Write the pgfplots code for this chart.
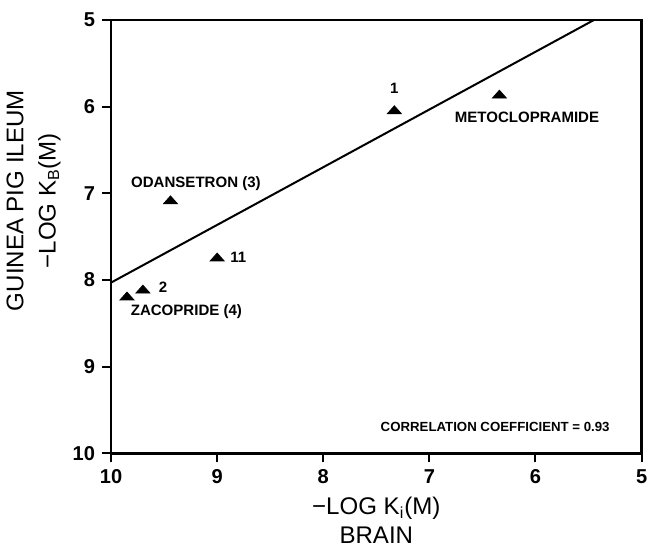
\documentclass[border=0pt]{standalone}
\usepackage{fontspec}
\setmainfont{Liberation Sans}
\usepackage{pgfplots}
\pgfplotsset{compat=1.18}
\usetikzlibrary{calc}
\begin{document}
\begin{tikzpicture}[trim right={($(current axis.south east)+(3.2pt,0)$)}]
\begin{axis}[
  width=264.5pt, height=216pt, scale only axis,
  x dir=reverse, y dir=reverse,
  xmin=5, xmax=10, ymin=5, ymax=10,
  xtick={5,6,7,8,9,10}, ytick={5,6,7,8,9,10},
  axis line style={line width=1.4pt},
  tick style={line width=1pt, black},
  tick align=outside, major tick length=4.5pt,
  xtick pos=bottom, ytick pos=left,
  tick label style={font=\fontsize{10}{12}\selectfont\bfseries},
  /pgf/number format/assume math mode=true,
  xlabel={−LOG K\textsubscript{i}(M)\\BRAIN},
  xlabel style={align=center, font=\fontsize{12}{14.5}\selectfont},
  clip=false,
]
% regression line
\addplot[black, line width=1pt] coordinates {(10,8.03) (5.45,5)};
% compounds
\addplot[only marks, mark=triangle*, mark size=4pt,
  mark options={black, yscale=0.65}] coordinates {
  (7.33,6.05) (6.34,5.87) (9.44,7.09) (9.00,7.75) (9.70,8.12) (9.85,8.20)
};
\begin{scope}[every node/.style={font=\fontsize{7.5}{9}\selectfont\bfseries}]
\node at (axis cs:7.33,5.79) {1};
\node at (axis cs:6.08,6.12) {METOCLOPRAMIDE};
\node at (axis cs:9.20,6.89) {ODANSETRON (3)};
\node at (axis cs:8.80,7.74) {11};
\node at (axis cs:9.51,8.08) {2};
\node at (axis cs:9.29,8.36) {ZACOPRIDE (4)};
\end{scope}
\node[font=\fontsize{6.6}{8}\selectfont\bfseries] at (axis cs:6.38,9.70)
  {CORRELATION COEFFICIENT = 0.93};
\node[rotate=90, align=center, font=\fontsize{12}{15}\selectfont]
  at (axis description cs:-0.146,0.583)
  {GUINEA PIG ILEUM\\[1pt]−LOG K\textsubscript{B}(M)};
\end{axis}
\path ([yshift=10pt]current axis.north);
\end{tikzpicture}
\end{document}
